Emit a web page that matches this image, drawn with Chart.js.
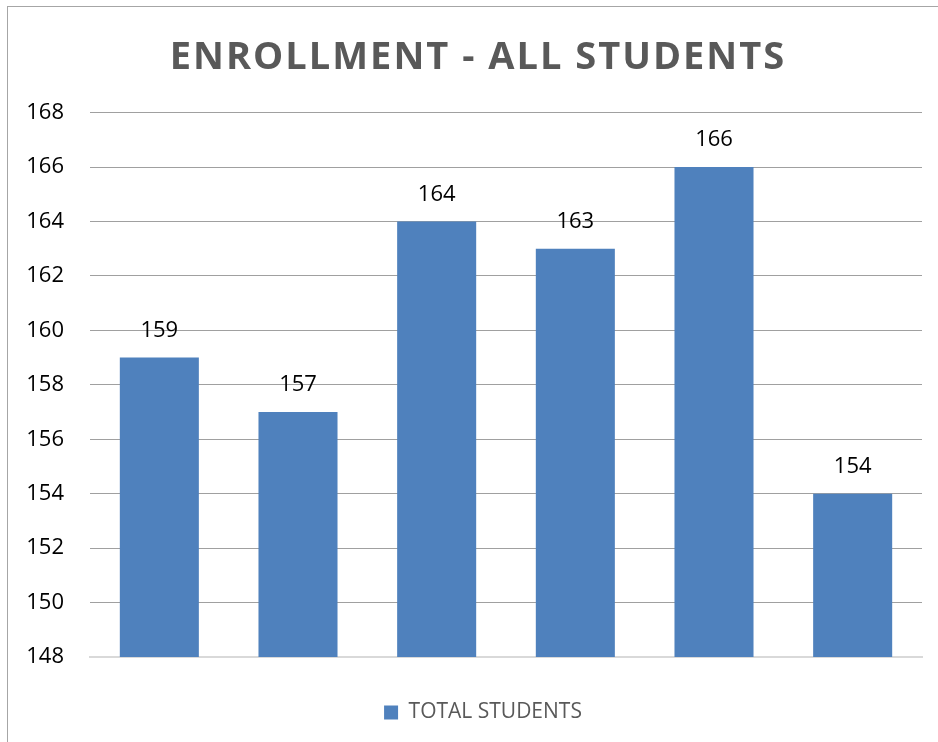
<!DOCTYPE html>
<html>
<head>
<meta charset="utf-8">
<script src="https://cdn.jsdelivr.net/npm/chart.js@4"></script>
<style>
  html, body { margin: 0; padding: 0; background: #fff; overflow: hidden; }
  #frame {
    position: absolute; left: 7px; top: 6px; width: 1000px; height: 800px;
    border-left: 1px solid #a6a6a6; border-top: 1px solid #a6a6a6;
  }
  #wrap { position: absolute; left: 0; top: 0; width: 938px; height: 742px; }
</style>
</head>
<body>
<div id="frame"></div>
<div id="wrap"><canvas id="enrollChart"></canvas></div>
<script>
// chart data
const categories = ['1', '2', '3', '4', '5', '6'];
const totalStudents = [159, 157, 164, 163, 166, 154];
const yMin = 148;
const yMax = 168;
const yStep = 2;
const chartTitle = 'ENROLLMENT - ALL STUDENTS';

// value labels above each bar
const barLabels = {
    id: 'barLabels',
    afterDatasetsDraw(chart) {
        const ctx = chart.ctx;
        ctx.save();
        ctx.font = '22px "Open Sans"';
        ctx.fillStyle = '#000';
        ctx.textAlign = 'center';
        ctx.textBaseline = 'middle';
        chart.getDatasetMeta(0).data.forEach((bar, i) => {
            ctx.fillText(totalStudents[i], bar.x, bar.y - 27);
        });
        ctx.restore();
    }
};

// title with letter spacing, drawn into the space reserved by the built-in title
const spacedTitle = {
    id: 'spacedTitle',
    afterLayout(chart) {
        // nudge the legend to sit under the middle of the plot
        if (chart.legend) {
            chart.legend.left += 9;
            chart.legend.right += 9;
        }
    },
    afterDraw(chart) {
        const tb = chart.titleBlock;
        if (!tb) return;
        const ctx = chart.ctx;
        ctx.save();
        ctx.font = 'bold 38px "Open Sans"';
        ctx.letterSpacing = '2px';
        ctx.fillStyle = '#595959';
        ctx.textAlign = 'center';
        ctx.textBaseline = 'middle';
        const top = tb.top + tb.options.padding.top;
        const h = tb.height - tb.options.padding.top - tb.options.padding.bottom;
        ctx.fillText(chartTitle, (tb.left + tb.right) / 2 + 4, top + h / 2);
        ctx.restore();
    }
};

const ctx = document.getElementById('enrollChart').getContext('2d');
const enrollChart = new Chart(ctx, {
    type: 'bar',
    data: {
        labels: categories,
        datasets: [{
            label: 'TOTAL STUDENTS',
            data: totalStudents,
            backgroundColor: '#4f81bd',
            borderWidth: 0,
            barPercentage: 0.57,
            categoryPercentage: 1
        }]
    },
    options: {
        responsive: true,
        maintainAspectRatio: false,
        animation: false,
        layout: {
            padding: { left: 26, right: 16, top: 8, bottom: 9 }
        },
        plugins: {
            legend: {
                display: true,
                position: 'bottom',
                labels: {
                    boxWidth: 14,
                    boxHeight: 14,
                    padding: 10,
                    color: '#595959',
                    font: { size: 21, family: 'Open Sans' }
                }
            },
            title: {
                display: true,
                text: chartTitle,
                color: 'rgba(0,0,0,0)',
                font: { size: 38, family: 'Open Sans', weight: 'bold' },
                padding: { top: 27, bottom: 32 }
            },
            tooltip: { enabled: false }
        },
        scales: {
            x: {
                grid: { display: false },
                ticks: { display: false },
                border: { color: '#d9d9d9', width: 2 },
                afterFit(scale) { scale.height += 27; }
            },
            y: {
                min: yMin,
                max: yMax,
                grid: {
                    color: '#a0a0a0',
                    drawTicks: false
                },
                border: { display: false },
                ticks: {
                    stepSize: yStep,
                    padding: 26,
                    color: '#000',
                    font: { size: 22, family: 'Open Sans' }
                },
                afterFit(scale) { scale.width = 64; }
            }
        }
    },
    plugins: [barLabels, spacedTitle]
});
</script>
</body>
</html>
